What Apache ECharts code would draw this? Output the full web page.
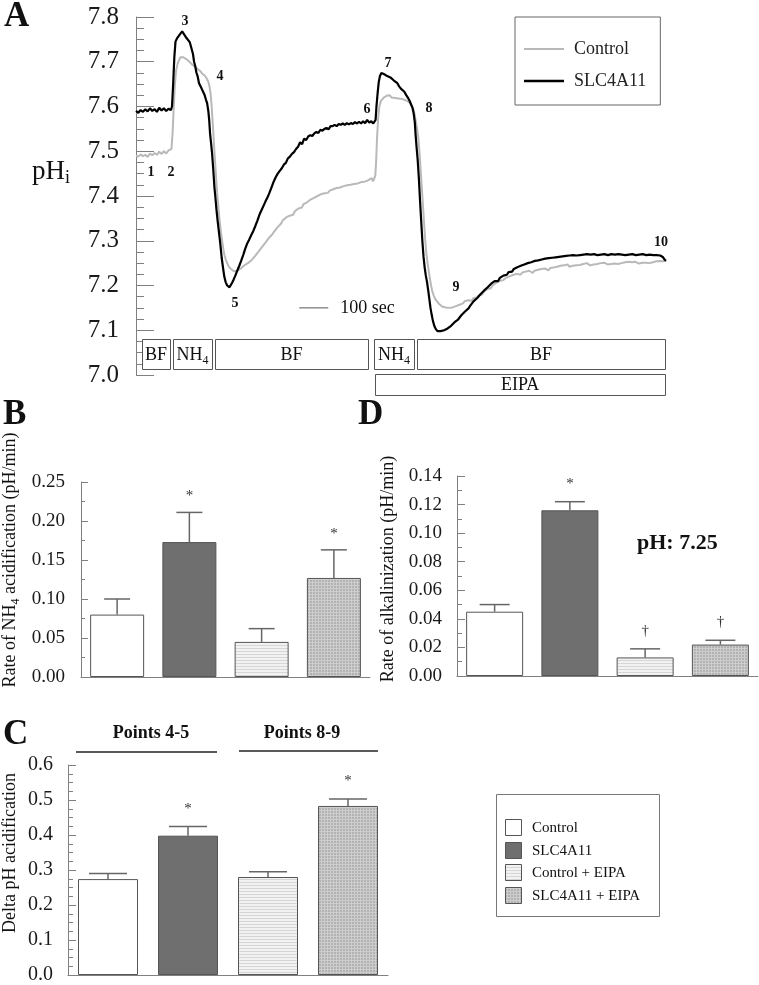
<!DOCTYPE html>
<html><head><meta charset="utf-8">
<script src="https://cdn.jsdelivr.net/npm/echarts@6/dist/echarts.min.js"></script>
<style>html,body{margin:0;padding:0;background:#fff}#c{width:759px;height:985px}</style>
</head><body><div id="c"></div>
<script>
// ---------- DATA ----------
// Panel A traces: [time (s), pHi]
const controlTrace = [[0,7.490],[8,7.488],[16,7.493],[24,7.489],[32,7.492],[40,7.487],[48,7.495],[56,7.491],[64,7.496],[72,7.492],[80,7.499],[88,7.494],[96,7.500],[104,7.495],[112,7.502],[118,7.498],[122,7.505],[126,7.540],[130,7.600],[134,7.650],[138,7.680],[143,7.695],[148,7.703],[153,7.710],[158,7.714],[163,7.710],[168,7.712],[173,7.706],[178,7.708],[184,7.700],[190,7.697],[196,7.692],[202,7.688],[208,7.686],[214,7.682],[220,7.680],[226,7.675],[232,7.672],[238,7.668],[244,7.662],[249,7.655],[253,7.645],[257,7.628],[260,7.605],[263,7.575],[266,7.545],[269,7.510],[272,7.480],[275,7.450],[278,7.420],[281,7.395],[285,7.365],[289,7.338],[293,7.317],[297,7.298],[301,7.280],[305,7.267],[309,7.258],[314,7.250],[319,7.243],[325,7.238],[331,7.234],[337,7.232],[343,7.231],[349,7.233],[355,7.236],[361,7.238],[367,7.241],[373,7.245],[379,7.248],[385,7.250],[391,7.253],[397,7.256],[403,7.260],[409,7.265],[415,7.268],[421,7.275],[427,7.280],[433,7.284],[439,7.290],[445,7.295],[451,7.298],[457,7.306],[463,7.308],[469,7.314],[475,7.320],[481,7.322],[487,7.330],[493,7.334],[499,7.338],[505,7.345],[511,7.344],[517,7.352],[523,7.353],[529,7.356],[535,7.360],[541,7.358],[547,7.366],[553,7.368],[559,7.372],[565,7.376],[571,7.374],[577,7.382],[583,7.380],[589,7.386],[595,7.385],[601,7.392],[607,7.390],[613,7.396],[619,7.397],[625,7.400],[631,7.398],[637,7.404],[643,7.403],[649,7.406],[655,7.409],[661,7.407],[667,7.412],[673,7.410],[679,7.415],[685,7.413],[691,7.418],[697,7.417],[703,7.419],[709,7.418],[715,7.422],[721,7.420],[727,7.424],[733,7.423],[739,7.425],[745,7.424],[751,7.427],[757,7.426],[763,7.428],[769,7.427],[775,7.431],[781,7.429],[787,7.432],[793,7.430],[799,7.435],[805,7.437],[811,7.440],[816,7.433],[821,7.430],[824,7.445],[827,7.480],[830,7.530],[834,7.575],[838,7.600],[843,7.612],[848,7.614],[853,7.620],[858,7.621],[863,7.624],[868,7.622],[874,7.625],[880,7.620],[886,7.623],[892,7.619],[898,7.622],[904,7.618],[910,7.620],[916,7.617],[922,7.618],[928,7.614],[934,7.613],[940,7.610],[946,7.606],[951,7.600],[956,7.592],[960,7.580],[964,7.565],[968,7.550],[972,7.530],[976,7.500],[980,7.460],[984,7.420],[988,7.380],[992,7.340],[996,7.300],[1000,7.270],[1004,7.250],[1008,7.232],[1012,7.215],[1016,7.200],[1020,7.188],[1025,7.178],[1030,7.170],[1036,7.165],[1042,7.160],[1048,7.156],[1054,7.153],[1060,7.152],[1066,7.151],[1072,7.152],[1078,7.150],[1084,7.153],[1090,7.151],[1096,7.155],[1102,7.154],[1108,7.158],[1114,7.157],[1120,7.161],[1126,7.160],[1132,7.165],[1138,7.162],[1144,7.167],[1150,7.170],[1156,7.166],[1162,7.172],[1168,7.175],[1174,7.173],[1180,7.178],[1186,7.182],[1192,7.180],[1198,7.186],[1204,7.189],[1210,7.192],[1216,7.196],[1222,7.194],[1228,7.200],[1234,7.202],[1240,7.206],[1246,7.204],[1252,7.210],[1258,7.208],[1264,7.212],[1270,7.215],[1276,7.218],[1282,7.216],[1288,7.221],[1294,7.219],[1300,7.224],[1306,7.222],[1312,7.226],[1318,7.228],[1324,7.224],[1330,7.229],[1336,7.227],[1342,7.231],[1348,7.229],[1354,7.233],[1360,7.231],[1366,7.228],[1372,7.233],[1378,7.231],[1384,7.235],[1390,7.232],[1396,7.237],[1402,7.234],[1408,7.238],[1414,7.236],[1420,7.234],[1426,7.239],[1432,7.236],[1438,7.240],[1444,7.238],[1450,7.242],[1456,7.239],[1462,7.244],[1468,7.241],[1474,7.245],[1480,7.243],[1486,7.247],[1492,7.242],[1498,7.246],[1504,7.244],[1510,7.248],[1516,7.245],[1522,7.249],[1528,7.246],[1534,7.244],[1540,7.248],[1546,7.246],[1552,7.250],[1558,7.247],[1564,7.245],[1570,7.249],[1576,7.247],[1582,7.250],[1588,7.248],[1594,7.246],[1600,7.250],[1606,7.248],[1612,7.251],[1618,7.249],[1624,7.247],[1630,7.250],[1636,7.248],[1642,7.252],[1648,7.249],[1654,7.251],[1660,7.248],[1666,7.252],[1672,7.250],[1678,7.248],[1684,7.252],[1690,7.250],[1696,7.253],[1702,7.250],[1708,7.252],[1714,7.249],[1720,7.253],[1726,7.251],[1732,7.249],[1738,7.253],[1744,7.251],[1750,7.254],[1756,7.251],[1762,7.253],[1768,7.250],[1774,7.254],[1780,7.252],[1786,7.250],[1792,7.254],[1798,7.252],[1804,7.255],[1810,7.252],[1816,7.254],[1821,7.258],[1825,7.256]];

const slcTrace = [[0,7.590],[8,7.586],[16,7.592],[24,7.588],[32,7.594],[40,7.589],[48,7.596],[56,7.590],[64,7.594],[72,7.588],[80,7.597],[88,7.591],[96,7.596],[104,7.590],[112,7.595],[120,7.592],[124,7.600],[128,7.650],[132,7.710],[136,7.745],[141,7.752],[147,7.756],[153,7.763],[159,7.768],[164,7.763],[169,7.760],[174,7.753],[179,7.750],[185,7.744],[190,7.740],[196,7.718],[200,7.700],[204,7.690],[208,7.676],[212,7.668],[217,7.652],[221,7.648],[226,7.640],[231,7.633],[236,7.626],[241,7.615],[245,7.607],[249,7.590],[252,7.570],[255,7.540],[259,7.515],[262,7.495],[266,7.460],[270,7.420],[273,7.400],[277,7.370],[281,7.345],[286,7.317],[290,7.295],[295,7.262],[300,7.238],[304,7.220],[309,7.207],[314,7.200],[318,7.197],[322,7.196],[327,7.200],[331,7.206],[336,7.213],[342,7.222],[348,7.232],[355,7.243],[362,7.255],[369,7.268],[376,7.282],[383,7.294],[390,7.303],[397,7.313],[404,7.322],[411,7.333],[418,7.345],[425,7.358],[432,7.368],[439,7.378],[446,7.388],[453,7.397],[460,7.408],[467,7.420],[474,7.432],[481,7.442],[488,7.450],[495,7.456],[502,7.462],[509,7.470],[516,7.474],[523,7.484],[530,7.488],[537,7.494],[544,7.498],[551,7.505],[558,7.510],[565,7.520],[572,7.516],[579,7.528],[586,7.525],[593,7.533],[600,7.536],[607,7.534],[614,7.540],[621,7.543],[628,7.541],[635,7.548],[642,7.546],[649,7.550],[656,7.552],[663,7.549],[670,7.556],[677,7.556],[684,7.559],[691,7.556],[698,7.561],[705,7.559],[712,7.562],[719,7.559],[726,7.563],[733,7.560],[740,7.563],[747,7.561],[754,7.565],[761,7.562],[768,7.566],[775,7.562],[782,7.567],[789,7.563],[796,7.570],[803,7.564],[810,7.567],[817,7.562],[822,7.560],[825,7.570],[828,7.600],[832,7.630],[836,7.655],[840,7.668],[845,7.675],[850,7.676],[855,7.672],[860,7.673],[865,7.668],[870,7.669],[876,7.665],[882,7.662],[888,7.658],[894,7.654],[900,7.652],[906,7.645],[912,7.640],[918,7.636],[924,7.633],[930,7.626],[936,7.620],[942,7.613],[947,7.605],[952,7.597],[956,7.585],[960,7.565],[963,7.535],[966,7.510],[970,7.480],[974,7.440],[978,7.390],[982,7.345],[986,7.300],[990,7.265],[994,7.240],[998,7.222],[1002,7.208],[1006,7.190],[1010,7.170],[1014,7.150],[1018,7.135],[1022,7.122],[1027,7.110],[1032,7.103],[1038,7.098],[1043,7.096],[1049,7.098],[1055,7.096],[1061,7.100],[1067,7.099],[1073,7.104],[1079,7.103],[1085,7.110],[1091,7.112],[1097,7.118],[1103,7.117],[1109,7.124],[1115,7.127],[1121,7.134],[1127,7.136],[1133,7.142],[1139,7.146],[1145,7.149],[1151,7.155],[1157,7.159],[1163,7.165],[1169,7.166],[1175,7.172],[1181,7.175],[1187,7.181],[1193,7.184],[1199,7.189],[1205,7.190],[1211,7.196],[1217,7.199],[1223,7.204],[1229,7.203],[1235,7.210],[1241,7.212],[1247,7.210],[1253,7.217],[1259,7.220],[1265,7.222],[1271,7.226],[1277,7.224],[1283,7.230],[1289,7.232],[1295,7.231],[1301,7.237],[1307,7.236],[1313,7.241],[1319,7.240],[1325,7.244],[1331,7.243],[1337,7.247],[1343,7.245],[1349,7.250],[1355,7.248],[1361,7.252],[1367,7.251],[1373,7.255],[1379,7.253],[1385,7.256],[1391,7.255],[1397,7.258],[1403,7.256],[1409,7.260],[1415,7.258],[1421,7.261],[1427,7.259],[1433,7.262],[1439,7.260],[1445,7.263],[1451,7.261],[1457,7.264],[1463,7.262],[1469,7.265],[1475,7.263],[1481,7.266],[1487,7.264],[1493,7.267],[1499,7.265],[1505,7.268],[1511,7.265],[1517,7.267],[1523,7.264],[1529,7.268],[1535,7.266],[1541,7.269],[1547,7.266],[1553,7.270],[1559,7.267],[1565,7.269],[1571,7.266],[1577,7.270],[1583,7.267],[1589,7.268],[1595,7.265],[1601,7.269],[1607,7.267],[1613,7.270],[1619,7.266],[1625,7.268],[1631,7.266],[1637,7.270],[1643,7.267],[1649,7.269],[1655,7.266],[1661,7.270],[1667,7.267],[1673,7.269],[1679,7.266],[1685,7.268],[1691,7.265],[1697,7.269],[1703,7.267],[1709,7.270],[1715,7.266],[1721,7.268],[1727,7.266],[1733,7.269],[1739,7.267],[1745,7.270],[1751,7.266],[1757,7.268],[1763,7.266],[1769,7.269],[1775,7.266],[1781,7.268],[1787,7.265],[1793,7.268],[1799,7.266],[1805,7.267],[1810,7.265],[1815,7.263],[1820,7.258],[1825,7.255]];

// Protocol bars (time ranges, s)
const protocolLabel = ['BF', 'NH4', 'BF', 'NH4', 'BF', 'EIPA'];
const protocolStart = [21, 127, 272, 820, 968, 823];
const protocolEnd   = [117, 262, 799, 957, 1822, 1822];
const protocolRow   = [0, 0, 0, 0, 0, 1];
const scaleBarStart = 562, scaleBarSec = 100, scaleBarPH = 7.15;

// Bar panels
const groups = ['Control', 'SLC4A11', 'Control + EIPA', 'SLC4A11 + EIPA'];
const bMean = [0.080, 0.173, 0.045, 0.127];
const bErr  = [0.020, 0.038, 0.017, 0.036];
const bMark = ['', '*', '', '*'];
const dMean = [0.045, 0.116, 0.013, 0.022];
const dErr  = [0.005, 0.006, 0.006, 0.003];
const dMark = ['', '*', '\u2020', '\u2020'];
const cMean = [0.274, 0.398, 0.280, 0.483];
const cErr  = [0.016, 0.026, 0.015, 0.020];
const cMark = ['', '*', '', '*'];

// ---------- STYLE ----------
const serif = '"Liberation Serif","Times New Roman",serif';
function mkPattern(w, h, bg, fg, draw) {
  const c = document.createElement('canvas'); c.width = w; c.height = h;
  const g = c.getContext('2d'); g.fillStyle = bg; g.fillRect(0, 0, w, h);
  g.fillStyle = fg; draw(g); return c;
}
const hatchCanvas = mkPattern(4, 3, '#f2f2f2', '#d6d6d6', g => g.fillRect(0, 0, 4, 1));
const gridCanvas = mkPattern(3, 3, '#b2b2b2', '#cdcdcd', g => { g.fillRect(0, 0, 3, 1); g.fillRect(0, 0, 1, 3); });
const fills = ['#ffffff', '#6f6f6f', {image: hatchCanvas, repeat: 'repeat'}, {image: gridCanvas, repeat: 'repeat'}];

const chart = echarts.init(document.getElementById('c'), null, {renderer: 'canvas'});

function yAx(grid, min, max, interval, minorSplit, digits, tickLen, minorLen, fs, margin) {
  return {
    gridIndex: grid, type: 'value', min, max, interval,
    axisLine: {show: true, lineStyle: {color: '#808080', width: 1}},
    axisTick: {show: true, inside: true, length: tickLen, lineStyle: {color: '#808080'}},
    minorTick: {show: true, splitNumber: minorSplit, length: minorLen, lineStyle: {color: '#808080'}},
    splitLine: {show: false}, minorSplitLine: {show: false},
    axisLabel: {fontFamily: serif, fontSize: fs, color: '#1a1a1a', margin, formatter: v => v.toFixed(digits)}
  };
}
function catAx(grid) {
  return {gridIndex: grid, type: 'category', data: groups,
    axisLine: {show: true, lineStyle: {color: '#808080'}}, axisTick: {show: false}, axisLabel: {show: false}};
}
function barSeries(g, means, w) {
  return {type: 'bar', xAxisIndex: g, yAxisIndex: g, barWidth: w,
    data: means.map((v, i) => ({value: v, itemStyle: {color: fills[i]}})),
    itemStyle: {borderColor: '#555', borderWidth: 1}, silent: true};
}
function errSeries(g, means, errs, marks, capW, markOffset) {
  return {type: 'custom', xAxisIndex: g, yAxisIndex: g, silent: true, z: 3,
    data: means.map((m, i) => [i, m, m + errs[i]]),
    renderItem: (params, api) => {
      const i = api.value(0);
      const b = api.coord([i, api.value(1)]);
      const t = api.coord([i, api.value(2)]);
      const ch = [
        {type: 'line', shape: {x1: t[0], y1: b[1], x2: t[0], y2: t[1]}, style: {stroke: '#666', lineWidth: 1.5}},
        {type: 'line', shape: {x1: t[0] - capW / 2, y1: t[1], x2: t[0] + capW / 2, y2: t[1]}, style: {stroke: '#666', lineWidth: 1.5}}
      ];
      const mk = marks[params.dataIndex];
      if (mk) ch.push({type: 'text', x: t[0], y: t[1] - markOffset,
        style: {text: mk, fontFamily: serif, fontSize: 15, fill: '#333', align: 'center', verticalAlign: 'middle'}});
      return {type: 'group', children: ch};
    }};
}

const protocolData = protocolStart.map((s, i) => [s, protocolEnd[i], protocolRow[i]]);

const graphic = [];
function txt(x, y, text, font, opts) {
  graphic.push(Object.assign({type: 'text', x, y, silent: true,
    style: {text, font, fill: '#111', align: 'left', verticalAlign: 'middle'}}, opts || {}));
}
// Panel letters
txt(4, 17, 'A', 'bold 35px ' + serif);
txt(3, 415, 'B', 'bold 35px ' + serif);
txt(358, 415, 'D', 'bold 35px ' + serif);
txt(3, 735, 'C', 'bold 35px ' + serif);
// pHi label
graphic.push({type: 'text', x: 32, y: 172, silent: true, style: {
  text: '{a|pH}{b|i}', align: 'left', verticalAlign: 'middle',
  rich: {a: {fontFamily: serif, fontSize: 27, lineHeight: 30, verticalAlign: 'middle', fill: '#111'},
         b: {fontFamily: serif, fontSize: 18, lineHeight: 18, verticalAlign: 'bottom', fill: '#111'}}}});
// trace point numbers
const numFont = 'bold 14px ' + serif;
[['1', 151, 172], ['2', 171, 172], ['3', 185, 21], ['4', 220, 76], ['5', 235, 303], ['6', 367, 109],
 ['7', 388, 63], ['8', 429, 108], ['9', 456, 287], ['10', 661, 242]].forEach(([s, x, y]) =>
  txt(x, y, s, numFont, {style: {text: s, font: numFont, fill: '#111', align: 'center', verticalAlign: 'middle'}}));
// Y axis names
function rotName(x, y, rich) {
  graphic.push({type: 'text', x, y, rotation: Math.PI / 2, silent: true, style: {
    text: rich, align: 'center', verticalAlign: 'middle',
    rich: {a: {fontFamily: serif, fontSize: 18, lineHeight: 24, verticalAlign: 'middle', fill: '#111'},
           b: {fontFamily: serif, fontSize: 12, lineHeight: 12, verticalAlign: 'bottom', fill: '#111'}}}});
}
rotName(10, 560, '{a|Rate of NH}{b|4}{a| acidification (pH/min)}');
rotName(388, 569, '{a|Rate of alkalinization (pH/min)}');
rotName(10, 853, '{a|Delta pH acidification}');
// C headers
const hFont = 'bold 18px ' + serif;
graphic.push({type: 'text', x: 151, y: 733, silent: true, style: {text: 'Points 4-5', font: hFont, fill: '#111', align: 'center', verticalAlign: 'middle'}});
graphic.push({type: 'text', x: 302, y: 733, silent: true, style: {text: 'Points 8-9', font: hFont, fill: '#111', align: 'center', verticalAlign: 'middle'}});
graphic.push({type: 'line', silent: true, shape: {x1: 76, y1: 752, x2: 217, y2: 752}, style: {stroke: '#222', lineWidth: 1.5}});
graphic.push({type: 'line', silent: true, shape: {x1: 239, y1: 751, x2: 378, y2: 751}, style: {stroke: '#222', lineWidth: 1.5}});
// pH: 7.25
txt(637, 543, 'pH: 7.25', 'bold 22px ' + serif);
// Bar legend
graphic.push({type: 'rect', silent: true, shape: {x: 496.5, y: 794.5, width: 163, height: 122}, style: {fill: '#fff', stroke: '#777', lineWidth: 1}});
[828, 851, 873, 896].forEach((cy, i) => {
  graphic.push({type: 'rect', silent: true, shape: {x: 505.5, y: cy - 8.5, width: 16, height: 16}, style: {fill: fills[i], stroke: '#555', lineWidth: 1}});
  txt(532, cy, groups[i], '15px ' + serif);
});

const option = {
  animation: false,
  backgroundColor: '#ffffff',
  grid: [
    {left: 136, top: 17, width: 530, height: 358},
    {left: 81, top: 482, width: 289, height: 195},
    {left: 457, top: 476, width: 301, height: 200},
    {left: 68, top: 765, width: 320, height: 212}
  ],
  xAxis: [
    {gridIndex: 0, type: 'value', min: 0, max: 1825, show: false},
    catAx(1), catAx(2), catAx(3)
  ],
  yAxis: [
    yAx(0, 7.0, 7.8, 0.1, 4, 1, 18, 8, 25, 17),
    yAx(1, 0, 0.25, 0.05, 2, 2, 7, 4, 19, 16),
    yAx(2, 0, 0.14, 0.02, 2, 2, 8, 5, 19, 15),
    yAx(3, 0, 0.6, 0.1, 4, 1, 8, 5, 20, 15)
  ],
  legend: {
    data: [{name: 'Control', icon: 'path://M0,0H40V2H0Z'}, {name: 'SLC4A11', icon: 'path://M0,0H40V2.5H0Z'}],
    left: 515, top: 17, orient: 'vertical',
    itemWidth: 40, itemHeight: 12, itemGap: 14, padding: [23, 14, 15, 9],
    borderColor: '#666', borderWidth: 1, selectedMode: false,
    textStyle: {fontFamily: serif, fontSize: 18, color: '#222', padding: [0, 0, 0, 5]}
  },
  series: [
    {name: 'Control', type: 'line', xAxisIndex: 0, yAxisIndex: 0, data: controlTrace, symbol: 'none',
     lineStyle: {color: '#b9b9b9', width: 2}, itemStyle: {color: '#b9b9b9'}, silent: true},
    {name: 'SLC4A11', type: 'line', xAxisIndex: 0, yAxisIndex: 0, data: slcTrace, symbol: 'none',
     lineStyle: {color: '#000000', width: 2.2}, itemStyle: {color: '#000000'}, silent: true},
    {type: 'custom', xAxisIndex: 0, yAxisIndex: 0, silent: true, clip: false, z: 4,
     data: protocolData,
     renderItem: (params, api) => {
       const p0 = api.coord([api.value(0), 7.0]);
       const p1 = api.coord([api.value(1), 7.0]);
       const row = api.value(2);
       const y = row === 0 ? p0[1] - 36 : p0[1] - 1;
       const h = row === 0 ? 30 : 21;
       const lab = protocolLabel[params.dataIndex];
       const cx = (p0[0] + p1[0]) / 2, cy = y + h / 2 + 1;
       const textEl = lab === 'NH4'
         ? {type: 'text', x: cx, y: cy, style: {text: '{a|NH}{b|4}', align: 'center', verticalAlign: 'middle',
             rich: {a: {fontFamily: serif, fontSize: 18, lineHeight: 24, verticalAlign: 'middle', fill: '#111'},
                    b: {fontFamily: serif, fontSize: 12, lineHeight: 12, verticalAlign: 'bottom', fill: '#111'}}}}
         : {type: 'text', x: cx, y: cy, style: {text: lab, fontFamily: serif, fontSize: 18, fill: '#111', align: 'center', verticalAlign: 'middle'}};
       return {type: 'group', children: [
         {type: 'rect', shape: {x: Math.round(p0[0]) + 0.5, y: Math.round(y) + 0.5, width: Math.round(p1[0] - p0[0]), height: h},
          style: {fill: '#fff', stroke: '#555', lineWidth: 1}},
         textEl]};
     }},
    {type: 'custom', xAxisIndex: 0, yAxisIndex: 0, silent: true, clip: false, z: 4,
     data: [[scaleBarStart, scaleBarStart + scaleBarSec, scaleBarPH]],
     renderItem: (params, api) => {
       const a = api.coord([api.value(0), api.value(2)]);
       const b = api.coord([api.value(1), api.value(2)]);
       return {type: 'group', children: [
         {type: 'line', shape: {x1: a[0], y1: a[1], x2: b[0], y2: b[1]}, style: {stroke: '#555', lineWidth: 1}},
         {type: 'text', x: b[0] + 12, y: a[1], style: {text: '100 sec', fontFamily: serif, fontSize: 18, fill: '#111', align: 'left', verticalAlign: 'middle'}}
       ]};
     }},
    barSeries(1, bMean, 54), errSeries(1, bMean, bErr, bMark, 26, 16),
    barSeries(2, dMean, 57), errSeries(2, dMean, dErr, dMark, 30, 18),
    barSeries(3, cMean, 60), errSeries(3, cMean, cErr, cMark, 38, 18)
  ],
  graphic
};
chart.setOption(option);
</script>
</body></html>
